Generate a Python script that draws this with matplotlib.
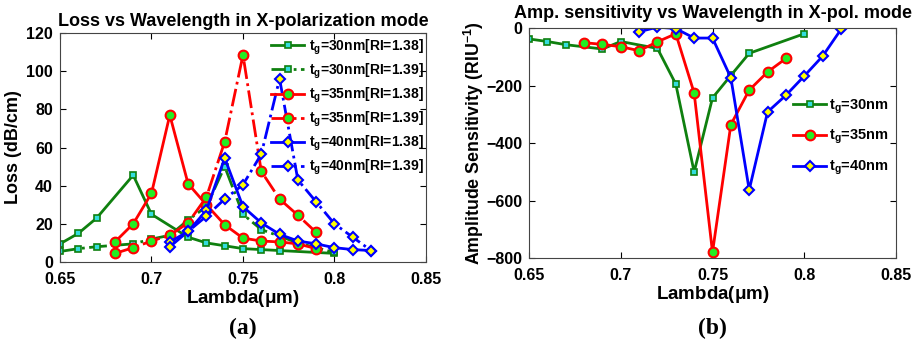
import numpy as np
import matplotlib
matplotlib.use('Agg')
import matplotlib.pyplot as plt

plt.rcParams['font.family'] = 'Liberation Sans'
plt.rcParams['font.weight'] = 'bold'
plt.rcParams['mathtext.fontset'] = 'custom'
plt.rcParams['mathtext.rm'] = 'Liberation Sans:bold'
plt.rcParams['mathtext.bf'] = 'Liberation Sans:bold'
plt.rcParams['mathtext.it'] = 'Liberation Sans:italic:bold'
plt.rcParams['mathtext.default'] = 'rm'

# ---- panel (a): loss ----
x30a = [0.65, 0.66, 0.67, 0.69, 0.70, 0.72, 0.73, 0.74, 0.75, 0.76, 0.77, 0.80]
loss30a = [9.5, 15, 23, 45.5, 25, 13, 10, 8.5, 7, 6.5, 6, 4.5]
x30b = [0.65, 0.66, 0.67, 0.69, 0.70, 0.71, 0.72, 0.73, 0.74, 0.75, 0.76, 0.78, 0.80]
loss30b = [5.5, 7, 8, 9.5, 12, 14, 22, 29, 50, 25, 17, 10, 5]
x35 = [0.68, 0.69, 0.70, 0.71, 0.72, 0.73, 0.74, 0.75, 0.76, 0.77, 0.78, 0.79]
loss35a = [10.5, 20, 36, 77, 41, 30, 19.5, 12.5, 11, 10.5, 9.5, 7]
loss35b = [4.5, 7.5, 11, 14, 20.5, 34, 63, 108.5, 47.5, 33, 24.5, 15.5]
x40 = [0.71, 0.72, 0.73, 0.74, 0.75, 0.76, 0.77, 0.78, 0.79, 0.80, 0.81, 0.82]
loss40a = [10.5, 16, 27, 54.5, 29, 20.5, 14.5, 11, 9.5, 7.5, 6.5, 6]
loss40b = [8, 16, 24, 33, 40.5, 56.5, 96, 43, 31.5, 20, 13, 6]

# ---- panel (b): amplitude sensitivity ----
xs30 = [0.65, 0.66, 0.67, 0.69, 0.70, 0.72, 0.73, 0.74, 0.75, 0.76, 0.77, 0.80]
sens30 = [-38, -47, -58, -73, -47, -71, -195, -501, -243, -165, -88, -20]
sens35 = [-51, -57, -65, -79, -48, -20, -226, -780, -336, -216, -153, -106]
sens40 = [-13, 3, -2, -35, -35, -173, -563, -292, -234, -167, -98, -5]

green = '#0f800f'
sty = {
    '30': dict(color=green, marker='s', ms=5, mfc='#33dddd', mec=green, mew=1.2),
    '35': dict(color='red', marker='o', ms=7, mfc='#22ee22', mec='red', mew=1.5),
    '40': dict(color='blue', marker='D', ms=5.5, mfc='yellow', mec='blue', mew=1.5),
}

fig = plt.figure(figsize=(9.19, 3.44), dpi=100)
ax1 = fig.add_axes([0.0653, 0.2384, 0.3982, 0.6656])
ax2 = fig.add_axes([0.5756, 0.25, 0.3994, 0.6686])

ax1.plot(x30a, loss30a, '-', lw=2, label=r'$t_g$=30nm[RI=1.38]', **sty['30'])
ax1.plot(x30b, loss30b, '-.', lw=2, label=r'$t_g$=30nm[RI=1.39]', **sty['30'])
ax1.plot(x35, loss35a, '-', lw=2, label=r'$t_g$=35nm[RI=1.38]', **sty['35'])
ax1.plot(x35, loss35b, '-.', lw=2, label=r'$t_g$=35nm[RI=1.39]', **sty['35'])
ax1.plot(x40, loss40a, '-', lw=2, label=r'$t_g$=40nm[RI=1.38]', **sty['40'])
ax1.plot(x40, loss40b, '-.', lw=2, label=r'$t_g$=40nm[RI=1.39]', **sty['40'])

ax1.set_xlim(0.65, 0.85)
ax1.set_ylim(0, 120)
ax1.set_xticks([0.65, 0.7, 0.75, 0.8, 0.85])
ax1.set_xticklabels(['0.65', '0.7', '0.75', '0.8', '0.85'])
ax1.set_yticks(np.arange(0, 121, 20))
ax1.set_title('Loss vs Wavelength in X-polarization mode', fontsize=13, fontweight='bold', pad=5)
ax1.set_xlabel(r'Lambda($\mu$m)', fontsize=13.5, fontweight='bold', labelpad=1)
ax1.set_ylabel('Loss (dB/cm)', fontsize=13, fontweight='bold', labelpad=3)
ax1.legend(loc='upper right', frameon=False, fontsize=10, handlelength=2.4,
           labelspacing=0.35, borderaxespad=0.1, handletextpad=0.3,
           bbox_to_anchor=(1.012, 1.012))

ax2.plot(xs30, sens30, '-', lw=2, label=r'$t_g$=30nm', **sty['30'])
ax2.plot(x35, sens35, '-', lw=2, label=r'$t_g$=35nm', **sty['35'])
ax2.plot(x40, sens40, '-', lw=2, label=r'$t_g$=40nm', **sty['40'])
ax2.set_xlim(0.65, 0.85)
ax2.set_ylim(-800, 0)
ax2.set_xticks([0.65, 0.7, 0.75, 0.8, 0.85])
ax2.set_xticklabels(['0.65', '0.7', '0.75', '0.8', '0.85'])
ax2.set_yticks([0, -200, -400, -600, -800])
ax2.set_title('Amp. sensitivity vs Wavelength in X-pol. mode', fontsize=13, fontweight='bold', pad=7)
ax2.set_xlabel(r'Lambda($\mu$m)', fontsize=13.5, fontweight='bold', labelpad=1)
ax2.set_ylabel(r'Amplitude Sensitivity (RIU$^{-1}$)', fontsize=12.8, fontweight='bold', labelpad=0)
ax2.legend(loc='upper right', frameon=False, fontsize=10.5, handlelength=2.3,
           labelspacing=0.85, borderaxespad=0.1, handletextpad=0.2,
           bbox_to_anchor=(1.0, 0.73))

for ax in (ax1, ax2):
    ax.tick_params(direction='in', top=True, right=True, labelsize=11.5, length=4)
    ax.tick_params(axis='x', pad=7)
    ax.tick_params(axis='y', pad=5)
    for lab in ax.get_xticklabels() + ax.get_yticklabels():
        lab.set_fontweight('bold')
    for sp in ax.spines.values():
        sp.set_color('#444444')
        sp.set_linewidth(0.8)

fig.text(0.2644, 0.045, '(a)', fontsize=17, fontweight='bold', family='Liberation Serif', ha='center', va='center')
fig.text(0.775, 0.045, '(b)', fontsize=17, fontweight='bold', family='Liberation Serif', ha='center', va='center')

plt.savefig('out.png', dpi=100)
